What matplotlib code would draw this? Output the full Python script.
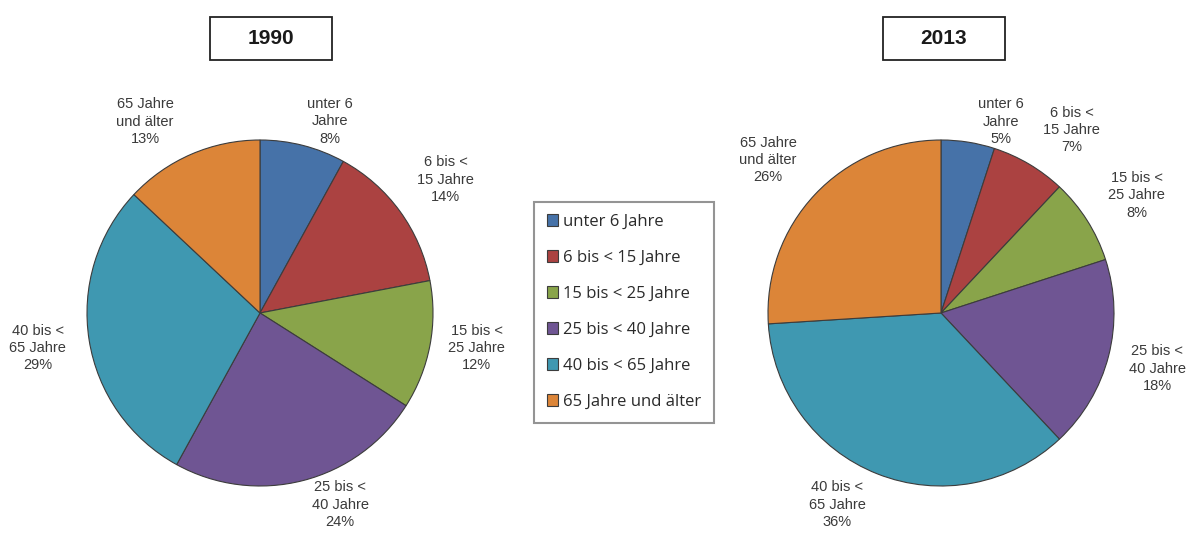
import matplotlib.pyplot as plt
from matplotlib.patches import Rectangle
import numpy as np

plt.rcParams['font.family'] = ['Liberation Sans', 'DejaVu Sans']

# Altersgruppen
categories = ['unter 6 Jahre', '6 bis < 15 Jahre', '15 bis < 25 Jahre',
              '25 bis < 40 Jahre', '40 bis < 65 Jahre', '65 Jahre und älter']
pie_labels = ['unter 6\nJahre', '6 bis <\n15 Jahre', '15 bis <\n25 Jahre',
              '25 bis <\n40 Jahre', '40 bis <\n65 Jahre', '65 Jahre\nund älter']
years = ['1990', '2013']
vals_1990 = [8, 14, 12, 24, 29, 13]
vals_2013 = [5, 7, 8, 18, 36, 26]

colors = ['#4672a8', '#ab4241', '#89a44a', '#6f5593', '#3f98b1', '#dc8538']

W, H = 1195, 533
fig = plt.figure(figsize=(W / 100, H / 100), dpi=100)

# pie centers / radius in pixels
centers = [(260, 313), (941, 313)]
R = 173
# label placement: radial distance (times radius) and angle shift (deg)
label_dist = [[1.18, 1.32, 1.27, 1.20, 1.30, 1.29],
              [1.16, 1.30, 1.32, 1.29, 1.26, 1.335]]
label_shift = [[-5.7, -0.3, 1.6, 8.3, 0.0, 7.6],
               [-8.4, -5.0, -1.4, 0.0, -6.8, 1.7]]

wedges_first = None
for k, vals in enumerate([vals_1990, vals_2013]):
    cx, cy = centers[k]
    ax = fig.add_axes([(cx - R) / W, (H - cy - R) / H, 2 * R / W, 2 * R / H])
    wedges, _ = ax.pie(vals, colors=colors, startangle=90, counterclock=False,
                       wedgeprops=dict(edgecolor='#3c3c3c', linewidth=0.8))
    if wedges_first is None:
        wedges_first = wedges
    ax.set_xlim(-1, 1)
    ax.set_ylim(-1, 1)
    ax.set_aspect('equal')
    for i, w in enumerate(wedges):
        ang = np.deg2rad((w.theta1 + w.theta2) / 2 + label_shift[k][i])
        d = label_dist[k][i]
        ax.text(d * np.cos(ang), d * np.sin(ang),
                pie_labels[i] + '\n' + '%d%%' % vals[i],
                ha='center', va='center', fontsize=10.5, color='#3a3a3a',
                linespacing=1.3, clip_on=False)

# title boxes
for (x0, yr) in [(210, years[0]), (883, years[1])]:
    fig.add_artist(Rectangle((x0 / W, 1 - 60 / H), 122 / W, 43 / H,
                             transform=fig.transFigure, facecolor='white',
                             edgecolor='#222222', linewidth=1.3))
    fig.text((x0 + 61) / W, 1 - 38.5 / H, yr, ha='center', va='center',
             fontsize=15, fontweight='bold', color='#1a1a1a')

leg = fig.legend(wedges_first, categories, loc='center',
                 bbox_to_anchor=(624 / W, 1 - 312 / H),
                 prop={'family': ['Open Sans', 'DejaVu Sans'], 'size': 12},
                 frameon=True, fancybox=False, labelspacing=1.2,
                 handlelength=0.7, handleheight=0.7, handletextpad=0.3,
                 borderpad=0.75, borderaxespad=0)
leg.get_frame().set_edgecolor('#7a7a7a')
leg.get_frame().set_linewidth(1.5)
for t in leg.get_texts():
    t.set_color('#2a2a2a')

fig.savefig('out.png', dpi=100)
